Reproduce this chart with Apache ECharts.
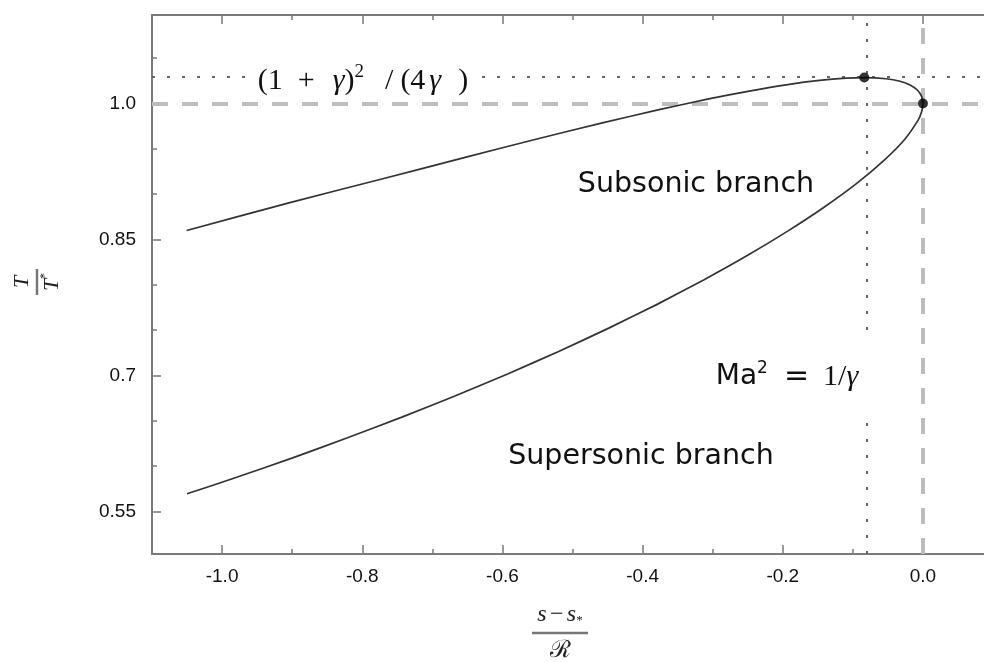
<!DOCTYPE html>
<html><head><meta charset="utf-8">
<script src="https://cdn.jsdelivr.net/npm/echarts@6/dist/echarts.min.js"></script>
<style>html,body{margin:0;padding:0;background:#fff}#c{width:984px;height:662px}</style>
</head><body><div id="c"></div>
<script>
// ---- data ----
const xMajorTicks = [-1.0, -0.8, -0.6, -0.4, -0.2, 0.0];
const xMajorLabels = ['-1.0', '-0.8', '-0.6', '-0.4', '-0.2', '0.0'];
const xMinorTicks = [-0.9, -0.7, -0.5, -0.3, -0.1];
const yMajorTicks = [0.55, 0.7, 0.85, 1.0];
const yMajorLabels = ['0.55', '0.7', '0.85', '1.0'];
const yMinorTicks = [0.6, 0.65, 0.75, 0.8, 0.9, 0.95, 1.05];

const subsonicS = [-1.0506, -0.9033, -0.7721, -0.6546, -0.5508, -0.4589, -0.3781, -0.3074, -0.2459, -0.1928, -0.1477, -0.1096, -0.0837, -0.0526, -0.0327, -0.0178, -0.0077, -0.0019, 0.0];
const subsonicT = [0.8599, 0.8907, 0.9167, 0.9403, 0.9608, 0.9783, 0.9929, 1.0048, 1.0140, 1.0209, 1.0255, 1.0280, 1.0286, 1.0273, 1.0245, 1.0202, 1.0146, 1.0078, 1.0];
const supersonicS = [0.0, -0.0018, -0.0069, -0.0262, -0.0560, -0.0945, -0.1406, -0.1930, -0.2507, -0.3129, -0.3786, -0.4476, -0.5190, -0.5926, -0.6678, -0.7444, -0.8220, -0.9003, -0.9792, -1.05];
const supersonicT = [1.0, 0.9912, 0.9816, 0.9603, 0.9369, 0.9118, 0.8858, 0.8592, 0.8323, 0.8054, 0.7787, 0.7525, 0.7268, 0.7017, 0.6774, 0.6538, 0.6310, 0.6089, 0.5877, 0.5695];

const criticalS = [-0.0837, 0.0];
const criticalT = [1.0286, 1.0];
const sonicS = 0.0, sonicT = 1.0;
const maxTempS = -0.0837, maxTempT = 1.0286;

// ---- chart ----
const X_MIN = -1.1, X_MAX = 0.0871, Y_MIN = 0.5031, Y_MAX = 1.0976;
const zip = (a, b) => a.map((v, i) => [v, b[i]]);
const axisColor = '#7a7a7a';
const lab = (vals, labels) => v => { const i = vals.findIndex(t => Math.abs(t - v) < 1e-9); return i >= 0 ? labels[i] : ''; };

function xAx(pos, ticks, len, line, labels) {
  return {
    type: 'value', min: X_MIN, max: X_MAX, position: pos,
    axisLine: { show: line, onZero: false, lineStyle: { color: axisColor, width: 2 } },
    axisTick: { show: true, inside: true, length: len, customValues: ticks, lineStyle: { color: axisColor, width: 1.5 } },
    axisLabel: labels ? { show: true, customValues: ticks, formatter: lab(ticks, labels), margin: 13, fontSize: 19, color: '#111', fontFamily: 'Liberation Sans' } : { show: false },
    splitLine: { show: false }
  };
}
function yAx(pos, ticks, len, line, labels) {
  return {
    type: 'value', min: Y_MIN, max: Y_MAX, position: pos,
    axisLine: { show: line, onZero: false, lineStyle: { color: axisColor, width: 2 } },
    axisTick: { show: true, inside: true, length: len, customValues: ticks, lineStyle: { color: axisColor, width: 1.5 } },
    axisLabel: labels ? { show: true, customValues: ticks, formatter: lab(ticks, labels), margin: 16, fontSize: 19, color: '#111', fontFamily: 'Liberation Sans' } : { show: false },
    splitLine: { show: false }
  };
}

const serif = '"Liberation Serif", "DejaVu Serif", serif';
const sans = '"DejaVu Sans", sans-serif';
const mathRich = {
  n: { fontFamily: serif, fontSize: 30, fill: '#111' },
  g: { fontFamily: serif, fontSize: 30, fontStyle: 'italic', fill: '#111' },
  sup: { fontFamily: serif, fontSize: 19, fill: '#111', padding: [0, 0, 18, 0] },
  s15: { fontSize: 30, width: 15 }, s18: { fontSize: 30, width: 18 }, s21: { fontSize: 30, width: 21 },
  s7: { fontSize: 30, width: 7 }, s4: { fontSize: 30, width: 4 }, s17: { fontSize: 30, width: 17 },
  s16: { fontSize: 30, width: 16 }, s14: { fontSize: 30, width: 14 },
  ma: { fontFamily: sans, fontSize: 28, fill: '#111' },
  eq: { fontFamily: sans, fontSize: 30, fill: '#111' },
  sup2: { fontFamily: sans, fontSize: 17, fill: '#111', padding: [0, 0, 17, 0] }
};

const option = {
  animation: false,
  backgroundColor: '#fff',
  grid: { left: 152, right: 0, top: 15, bottom: 108 },
  xAxis: [
    xAx('bottom', xMajorTicks, 9, true, xMajorLabels),
    xAx('bottom', xMinorTicks, 5, false, null),
    xAx('top', xMajorTicks, 9, true, null),
    xAx('top', xMinorTicks, 5, false, null)
  ],
  yAxis: [
    yAx('left', yMajorTicks, 9, true, yMajorLabels),
    yAx('left', yMinorTicks, 5, false, null)
  ],
  series: [
    {
      name: 'Subsonic branch', type: 'line', data: zip(subsonicS, subsonicT), showSymbol: false, smooth: 0.2,
      lineStyle: { color: '#333', width: 1.7 }, z: 3, silent: true,
      markLine: {
        silent: true, symbol: 'none', z: 1, label: { show: false },
        data: [
          { yAxis: sonicT, lineStyle: { type: [16, 14], color: '#bdbdbd', width: 4 } },
          { xAxis: sonicS, lineStyle: { type: [16, 14], color: '#bdbdbd', width: 4 } },
          { yAxis: maxTempT, lineStyle: { type: [3, 12], color: '#666', width: 2 } },
          { xAxis: maxTempS, lineStyle: { type: [3, 13], color: '#666', width: 2 } }
        ]
      }
    },
    {
      name: 'Supersonic branch', type: 'line', data: zip(supersonicS, supersonicT), showSymbol: false, smooth: 0.2,
      lineStyle: { color: '#333', width: 1.7 }, z: 3, silent: true
    },
    {
      name: 'critical', type: 'scatter', data: zip(criticalS, criticalT), symbolSize: 10,
      itemStyle: { color: '#000' }, z: 4, silent: true
    }
  ],
  graphic: [
    { type: 'text', x: 363, y: 81, z: 10, style: {
      text: '{n|(1}{s15| }{n|+}{s18| }{g|γ}{n|)}{sup|2}{s21| }{n|/}{s7| }{n|(4}{s4| }{g|γ}{s17| }{n|)}',
      rich: mathRich, align: 'center', verticalAlign: 'middle', backgroundColor: '#fff', padding: [0, 12] } },
    { type: 'text', x: 696, y: 185, z: 10, style: { text: 'Subsonic branch', font: '28.5px "DejaVu Sans"', fill: '#111', align: 'center', verticalAlign: 'middle' } },
    { type: 'text', x: 641, y: 457, z: 10, style: { text: 'Supersonic branch', font: '28.5px "DejaVu Sans"', fill: '#111', align: 'center', verticalAlign: 'middle' } },
    { type: 'text', x: 790, y: 377, z: 10, style: {
      text: '{ma|Ma}{sup2|2}{s16| }{eq|=}{s14| }{n|1/}{g|γ}',
      rich: mathRich, align: 'center', verticalAlign: 'middle', backgroundColor: '#fff', padding: [19, 14, 19, 8] } },
    { type: 'group', x: 560, y: 633, z: 10, children: [
      { type: 'text', x: 0, y: -18, style: { text: '{i|s} {n|−} {i|s}{sub|*}', rich: {
          i: { fontFamily: serif, fontStyle: 'italic', fontSize: 24, fill: '#222' },
          n: { fontFamily: serif, fontSize: 24, fill: '#222' },
          sub: { fontFamily: serif, fontSize: 13, fill: '#222', padding: [12, 0, 0, 0] } },
        align: 'center', verticalAlign: 'middle' } },
      { type: 'line', shape: { x1: -28, y1: 0, x2: 28, y2: 0 }, style: { stroke: '#777', lineWidth: 2.5 } },
      { type: 'text', x: 0, y: 18, style: { text: 'ℛ', font: '24px "DejaVu Serif"', fill: '#222', align: 'center', verticalAlign: 'middle' } }
    ] },
    { type: 'group', x: 37, y: 282, rotation: Math.PI / 2, z: 10, children: [
      { type: 'text', x: 0, y: -15, style: { text: 'T', font: 'italic 22px "Liberation Serif"', fill: '#222', align: 'center', verticalAlign: 'middle' } },
      { type: 'line', shape: { x1: -13, y1: 0, x2: 13, y2: 0 }, style: { stroke: '#777', lineWidth: 2.5 } },
      { type: 'text', x: 0, y: 15, style: { text: '{i|T}{sub|*}', rich: {
          i: { fontFamily: serif, fontStyle: 'italic', fontSize: 22, fill: '#222' },
          sub: { fontFamily: serif, fontSize: 12, fill: '#222', padding: [0, 0, 14, 0] } },
        align: 'center', verticalAlign: 'middle' } }
    ] }
  ]
};
const chart = echarts.init(document.getElementById('c'), null, { renderer: 'canvas' });
chart.setOption(option);
</script>
</body></html>
